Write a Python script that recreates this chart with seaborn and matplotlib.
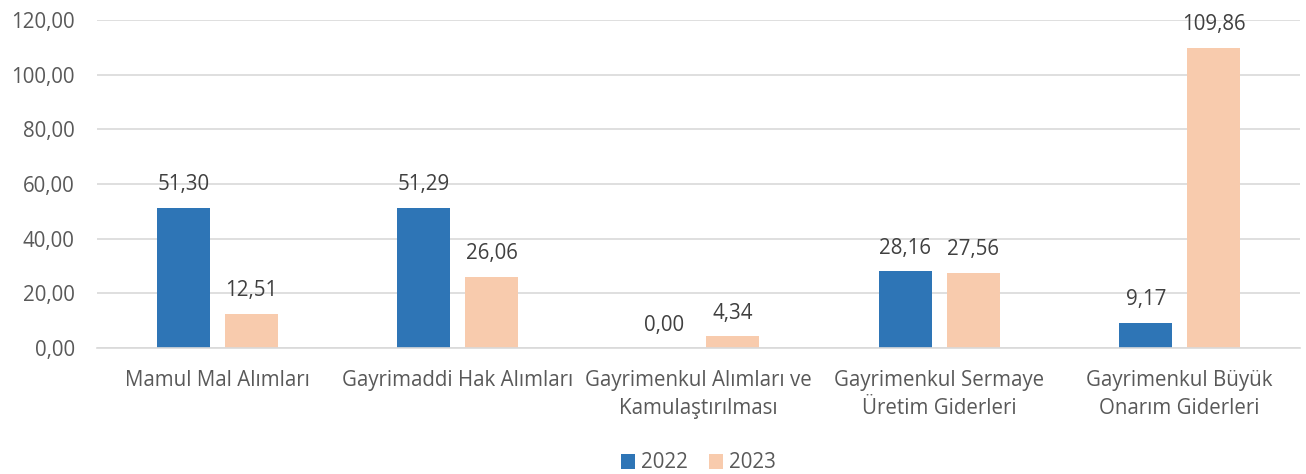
import matplotlib
matplotlib.use("Agg")
import matplotlib.pyplot as plt
import seaborn as sns
import pandas as pd

categories = ["Mamul Mal Alımları", "Gayrimaddi Hak Alımları",
              "Gayrimenkul Alımları ve\nKamulaştırılması",
              "Gayrimenkul Sermaye\nÜretim Giderleri",
              "Gayrimenkul Büyük\nOnarım Giderleri"]
years = ["2022", "2023"]
values_2022 = [51.30, 51.29, 0.00, 28.16, 9.17]
values_2023 = [12.51, 26.06, 4.34, 27.56, 109.86]
yticks = [0, 20, 40, 60, 80, 100, 120]

df = pd.DataFrame({
    "cat": categories * 2,
    "year": [years[0]] * 5 + [years[1]] * 5,
    "val": values_2022 + values_2023,
})

sns.set_theme(style="white")
plt.rcParams['font.family'] = ['Open Sans', 'DejaVu Sans']
txt = "#595959"
fs = 14.8

fig = plt.figure(figsize=(13.06, 4.74), dpi=100)
ax = fig.add_axes([97/1306, 1 - 348/474, (1300 - 97)/1306, (348 - 20)/474])
sns.barplot(data=df, x="cat", y="val", hue="year", order=categories,
            hue_order=years, palette=["#2E75B6", "#F8CBAD"],
            width=0.565, gap=0.22, ax=ax, legend=True, saturation=1,
            linewidth=0)

for cont in ax.containers:
    ax.bar_label(cont, labels=[f"{v:.2f}".replace(".", ",") for v in cont.datavalues],
                 padding=9, fontsize=fs, color="#404040")

ax.set_ylim(0, 120)
ax.set_yticks(yticks)
ax.set_yticklabels([f"{v:.2f}".replace(".", ",") for v in yticks], fontsize=fs, color=txt)
ax.tick_params(axis="x", labelsize=fs, colors=txt, length=0, pad=16)
ax.tick_params(axis="y", length=0, pad=16)
for lab in ax.get_xticklabels():
    lab.set_linespacing(1.45)
ax.set_xlabel("")
ax.set_ylabel("")
ax.set_xlim(-0.5, 4.5)
ax.yaxis.grid(True, color="#D9D9D9", linewidth=1.2)
ax.set_axisbelow(True)
for s in ["top", "right", "left"]:
    ax.spines[s].set_visible(False)
ax.spines["bottom"].set_color("#D9D9D9")
ax.spines["bottom"].set_linewidth(1.2)

ax.legend(loc="center", bbox_to_anchor=(0.5, (348 - 463) / 328), ncol=2, frameon=False,
          fontsize=fs, handlelength=0.7, handleheight=0.7, columnspacing=1.0,
          handletextpad=0.3, labelcolor=txt, borderpad=0)

fig.savefig("out.png", dpi=100)
